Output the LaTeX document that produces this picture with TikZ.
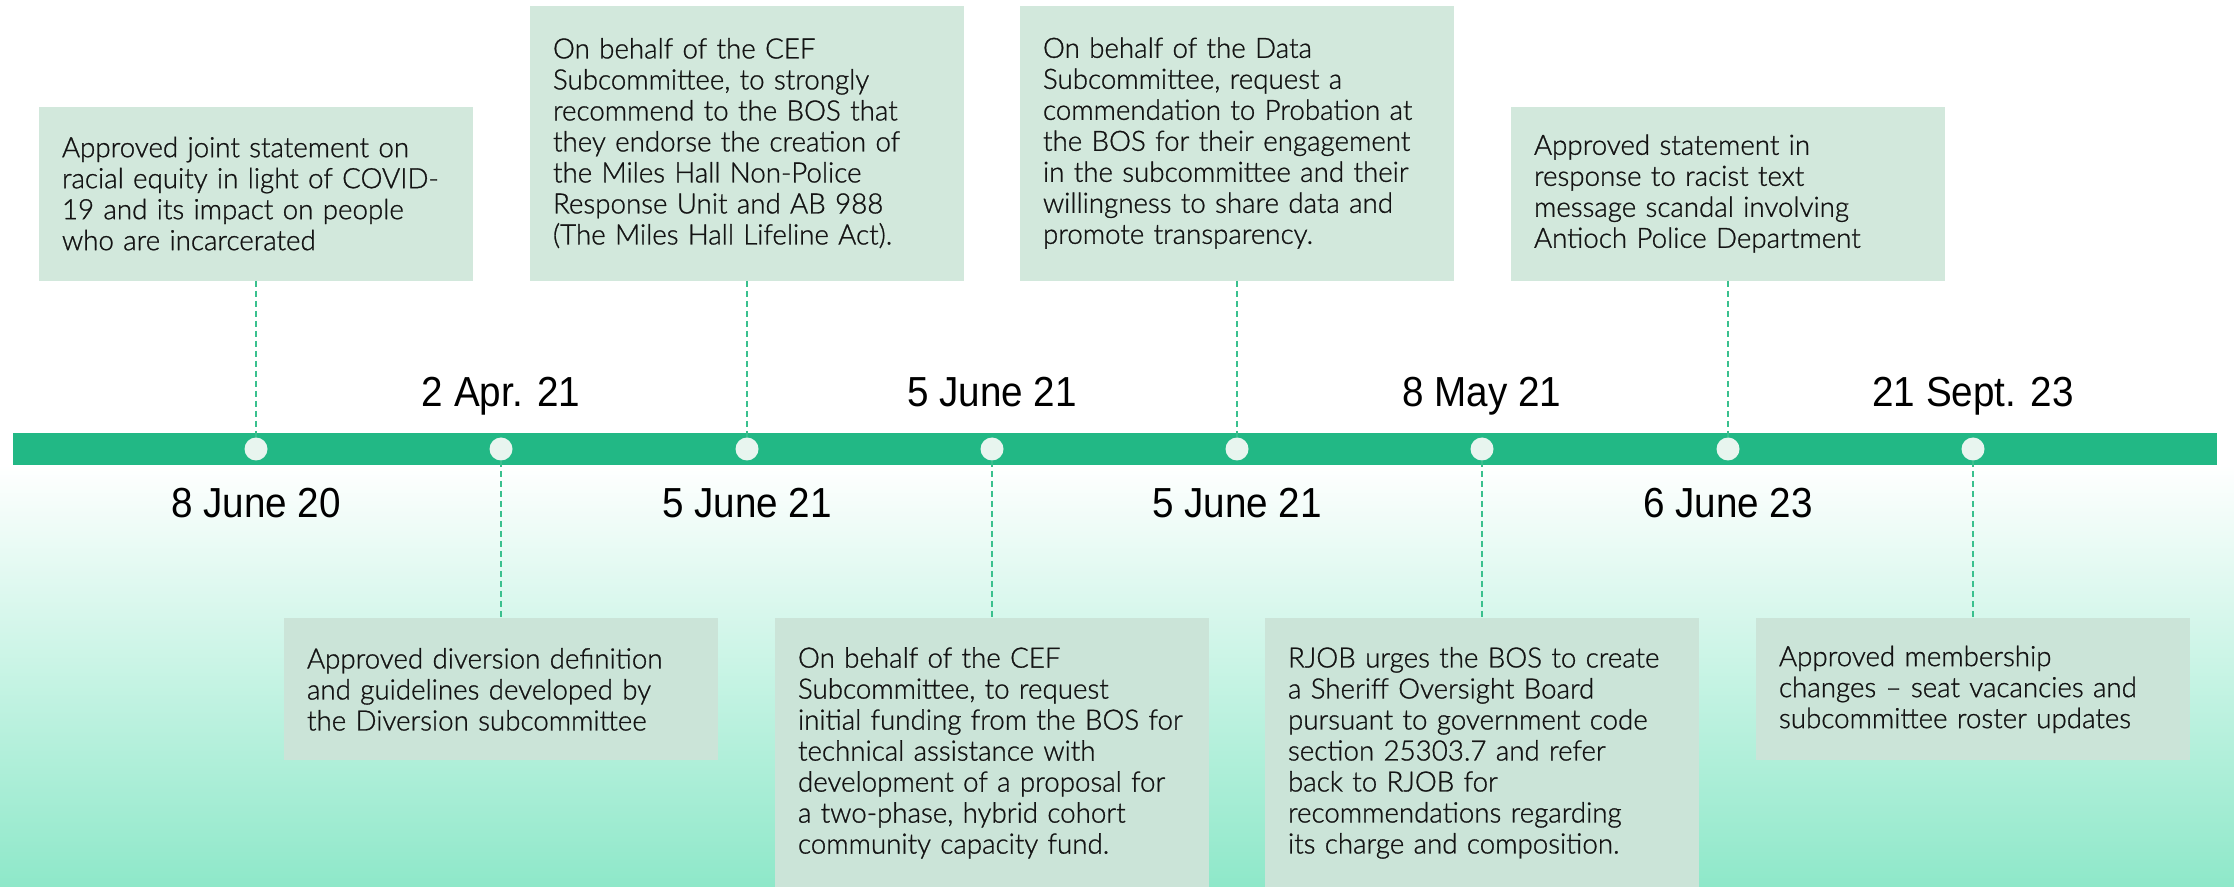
\documentclass[tikz,border=0pt]{standalone}
\usepackage{fontspec}
\setmainfont{Lato Light}[FakeStretch=0.99, FakeBold=1]
\newfontfamily\datefont[FakeStretch=0.92]{Liberation Sans}
\usepackage{tikz}
\usetikzlibrary{positioning}

\definecolor{bargreen}{RGB}{34,184,133}
\definecolor{dashgreen}{RGB}{58,192,142}
\definecolor{dotfill}{RGB}{232,245,239}
\definecolor{cardtop}{RGB}{210,232,220}
\definecolor{cardlow}{RGB}{203,228,216}
\definecolor{mint}{RGB}{142,232,201}
\definecolor{ink}{RGB}{20,20,20}

\tikzset{
  card/.style={fill=cardtop, text=ink, text width=206pt, inner xsep=5.5pt,
    inner ysep=0pt, align=left, font=\fontsize{14}{15.5}\selectfont,
    execute at begin node={\leftskip=6pt}},
  lowcard/.style={card, fill=cardlow, anchor=north},
  highcard/.style={card, anchor=south},
  dot/.style={circle, fill=dotfill, inner sep=0pt, minimum size=11.5pt},
  date/.style={anchor=base, text=black, font=\datefont\fontsize{21}{21}\selectfont},
  link/.style={draw=dashgreen, line width=0.75pt, dash pattern=on 3pt off 2pt}
}

\begin{document}
\begin{tikzpicture}[x=0.5pt,y=-0.5pt]
% page and shaded lower half
\useasboundingbox (0,0) rectangle (2234,887);
\fill[white] (0,0) rectangle (2234,887);
\shade[top color=white, bottom color=mint] (0,465) rectangle (2234,887);

% timeline bar
\fill[bargreen] (13,433) rectangle (2217,465);

% milestones
\node[dot] (d1) at (256,449) {};
\node[dot] (d2) at (501,449) {};
\node[dot] (d3) at (747,449) {};
\node[dot] (d4) at (992,449) {};
\node[dot] (d5) at (1237,449) {};
\node[dot] (d6) at (1482,449) {};
\node[dot] (d7) at (1728,449) {};
\node[dot] (d8) at (1973,449) {};

% dates
\node[date] (t1) at (256,517) {8 June 20};
\node[date] (t2) at (501,407) {2 Apr. 21};
\node[date] (t3) at (747,517) {5 June 21};
\node[date] (t4) at (992,407) {5 June 21};
\node[date] (t5) at (1237,517) {5 June 21};
\node[date] (t6) at (1482,407) {8 May 21};
\node[date] (t7) at (1728,517) {6 June 23};
\node[date] (t8) at (1973,407) {21 Sept. 23};

% cards above the bar
\node[highcard, minimum height=87pt] (c1) at (256,281)
  {Approved joint statement on\\racial equity in light of COVID-\\19 and its impact on people\\who are incarcerated};
\node[highcard, minimum height=137.5pt] (c3) at (747,281)
  {On behalf of the CEF\\Subcommittee, to strongly\\recommend to the BOS that\\they endorse the creation of\\the Miles Hall Non-Police\\Response Unit and AB 988\\(The Miles Hall Lifeline Act).};
\node[highcard, minimum height=137.5pt] (c5) at (1237,281)
  {On behalf of the Data\\Subcommittee, request a\\commendation to Probation at\\the BOS for their engagement\\in the subcommittee and their\\willingness to share data and\\promote transparency.};
\node[highcard, minimum height=87pt] (c7) at (1728,281)
  {Approved statement in\\response to racist text\\message scandal involving\\Antioch Police Department};

% cards below the bar
\node[lowcard, minimum height=71pt] (c2) at (501,618)
  {Approved diversion definition\\and guidelines developed by\\the Diversion subcommittee};
\node[lowcard, minimum height=134.5pt] (c4) at (992,618)
  {On behalf of the CEF\\Subcommittee, to request\\initial funding from the BOS for\\technical assistance with\\development of a proposal for\\a two-phase, hybrid cohort\\community capacity fund.};
\node[lowcard, minimum height=134.5pt] (c6) at (1482,618)
  {RJOB urges the BOS to create\\a Sheriff Oversight Board\\pursuant to government code\\section 25303.7 and refer\\back to RJOB for\\recommendations regarding\\its charge and composition.};
\node[lowcard, minimum height=71pt] (c8) at (1973,618)
  {Approved membership\\changes -- seat vacancies and\\subcommittee roster updates};

% leaders
\draw[link] (c1.south) -- (d1.north);
\draw[link] (c3.south) -- (d3.north);
\draw[link] (c5.south) -- (d5.north);
\draw[link] (c7.south) -- (d7.north);
\draw[link] (d2.south) -- (c2.north);
\draw[link] (d4.south) -- (c4.north);
\draw[link] (d6.south) -- (c6.north);
\draw[link] (d8.south) -- (c8.north);
\end{tikzpicture}
\end{document}
